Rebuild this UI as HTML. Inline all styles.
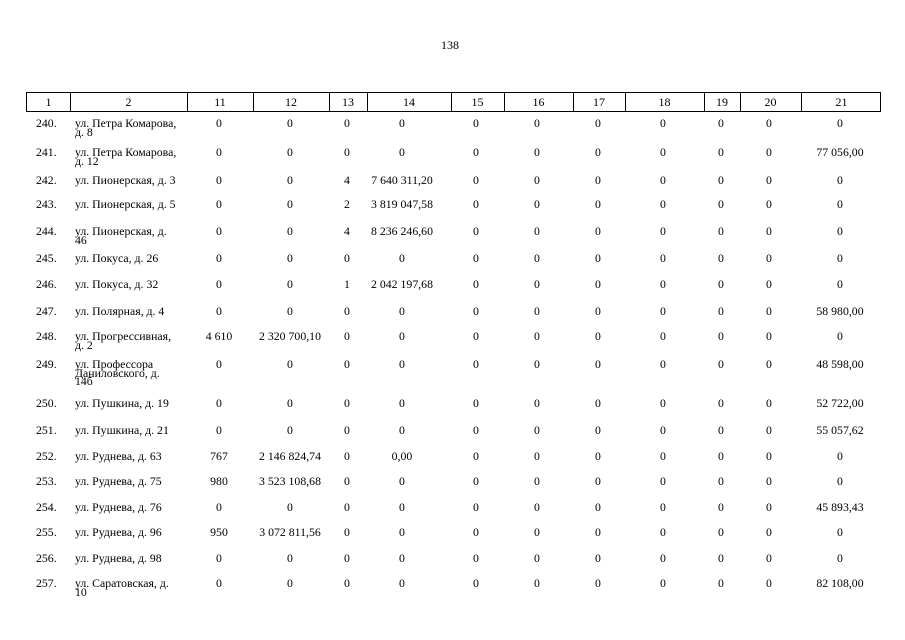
<!DOCTYPE html><html><head><meta charset="utf-8"><style>
body{margin:0;width:905px;height:640px;background:#fff;position:relative;font-family:"Liberation Serif",serif;font-size:11.8px;color:#000;overflow:hidden}
.t{position:absolute;left:441px;top:38px;font-size:12px}
.h{position:absolute;top:92px;left:26px;width:855px;height:20px;border:1px solid #000;box-sizing:border-box}
.v{position:absolute;top:0;height:18px;border-left:1px solid #000}
.hc{position:absolute;top:2px;text-align:center;font-size:12px}
.r{position:absolute;left:0;width:905px;height:30px}
.r span{position:absolute;top:0;width:80px;text-align:center;line-height:12px;white-space:nowrap}
.r .n{left:36px;width:30px;text-align:left}
.r .a{left:75px;width:115px;text-align:left;line-height:8.7px;padding-top:2px}
.c1{left:179px}.c2{left:250px}.c3{left:307px}.c4{left:362px}.c5{left:436px}.c6{left:497px}.c7{left:558px}.c8{left:623px}.c9{left:681px}.c10{left:729px}.c11{left:800px}
</style></head><body>
<div class="t">138</div>
<div class="h">
<div class="v" style="left:43px"></div><div class="v" style="left:160px"></div><div class="v" style="left:226px"></div><div class="v" style="left:302px"></div><div class="v" style="left:340px"></div><div class="v" style="left:424px"></div><div class="v" style="left:477px"></div><div class="v" style="left:546px"></div><div class="v" style="left:598px"></div><div class="v" style="left:677px"></div><div class="v" style="left:713px"></div><div class="v" style="left:774px"></div>
<div class="hc" style="left:0;width:43px">1</div><div class="hc" style="left:43px;width:117px">2</div><div class="hc" style="left:160px;width:66px">11</div><div class="hc" style="left:226px;width:76px">12</div><div class="hc" style="left:302px;width:38px">13</div><div class="hc" style="left:340px;width:84px">14</div><div class="hc" style="left:424px;width:53px">15</div><div class="hc" style="left:477px;width:69px">16</div><div class="hc" style="left:546px;width:52px">17</div><div class="hc" style="left:598px;width:79px">18</div><div class="hc" style="left:677px;width:36px">19</div><div class="hc" style="left:713px;width:61px">20</div><div class="hc" style="left:774px;width:81px">21</div>
</div>

<div class="r" style="top:117px"><span class="n">240.</span><span class="a">ул. Петра Комарова,<br>д. 8</span><span class="c1">0</span><span class="c2">0</span><span class="c3">0</span><span class="c4">0</span><span class="c5">0</span><span class="c6">0</span><span class="c7">0</span><span class="c8">0</span><span class="c9">0</span><span class="c10">0</span><span class="c11">0</span></div>
<div class="r" style="top:146px"><span class="n">241.</span><span class="a">ул. Петра Комарова,<br>д. 12</span><span class="c1">0</span><span class="c2">0</span><span class="c3">0</span><span class="c4">0</span><span class="c5">0</span><span class="c6">0</span><span class="c7">0</span><span class="c8">0</span><span class="c9">0</span><span class="c10">0</span><span class="c11">77 056,00</span></div>
<div class="r" style="top:174px"><span class="n">242.</span><span class="a">ул. Пионерская, д. 3</span><span class="c1">0</span><span class="c2">0</span><span class="c3">4</span><span class="c4">7 640 311,20</span><span class="c5">0</span><span class="c6">0</span><span class="c7">0</span><span class="c8">0</span><span class="c9">0</span><span class="c10">0</span><span class="c11">0</span></div>
<div class="r" style="top:198px"><span class="n">243.</span><span class="a">ул. Пионерская, д. 5</span><span class="c1">0</span><span class="c2">0</span><span class="c3">2</span><span class="c4">3 819 047,58</span><span class="c5">0</span><span class="c6">0</span><span class="c7">0</span><span class="c8">0</span><span class="c9">0</span><span class="c10">0</span><span class="c11">0</span></div>
<div class="r" style="top:225px"><span class="n">244.</span><span class="a">ул. Пионерская, д.<br>46</span><span class="c1">0</span><span class="c2">0</span><span class="c3">4</span><span class="c4">8 236 246,60</span><span class="c5">0</span><span class="c6">0</span><span class="c7">0</span><span class="c8">0</span><span class="c9">0</span><span class="c10">0</span><span class="c11">0</span></div>
<div class="r" style="top:252px"><span class="n">245.</span><span class="a">ул. Покуса, д. 26</span><span class="c1">0</span><span class="c2">0</span><span class="c3">0</span><span class="c4">0</span><span class="c5">0</span><span class="c6">0</span><span class="c7">0</span><span class="c8">0</span><span class="c9">0</span><span class="c10">0</span><span class="c11">0</span></div>
<div class="r" style="top:278px"><span class="n">246.</span><span class="a">ул. Покуса, д. 32</span><span class="c1">0</span><span class="c2">0</span><span class="c3">1</span><span class="c4">2 042 197,68</span><span class="c5">0</span><span class="c6">0</span><span class="c7">0</span><span class="c8">0</span><span class="c9">0</span><span class="c10">0</span><span class="c11">0</span></div>
<div class="r" style="top:305px"><span class="n">247.</span><span class="a">ул. Полярная, д. 4</span><span class="c1">0</span><span class="c2">0</span><span class="c3">0</span><span class="c4">0</span><span class="c5">0</span><span class="c6">0</span><span class="c7">0</span><span class="c8">0</span><span class="c9">0</span><span class="c10">0</span><span class="c11">58 980,00</span></div>
<div class="r" style="top:330px"><span class="n">248.</span><span class="a">ул. Прогрессивная,<br>д. 2</span><span class="c1">4 610</span><span class="c2">2 320 700,10</span><span class="c3">0</span><span class="c4">0</span><span class="c5">0</span><span class="c6">0</span><span class="c7">0</span><span class="c8">0</span><span class="c9">0</span><span class="c10">0</span><span class="c11">0</span></div>
<div class="r" style="top:358px"><span class="n">249.</span><span class="a">ул. Профессора<br>Даниловского, д.<br>14б</span><span class="c1">0</span><span class="c2">0</span><span class="c3">0</span><span class="c4">0</span><span class="c5">0</span><span class="c6">0</span><span class="c7">0</span><span class="c8">0</span><span class="c9">0</span><span class="c10">0</span><span class="c11">48 598,00</span></div>
<div class="r" style="top:397px"><span class="n">250.</span><span class="a">ул. Пушкина, д. 19</span><span class="c1">0</span><span class="c2">0</span><span class="c3">0</span><span class="c4">0</span><span class="c5">0</span><span class="c6">0</span><span class="c7">0</span><span class="c8">0</span><span class="c9">0</span><span class="c10">0</span><span class="c11">52 722,00</span></div>
<div class="r" style="top:424px"><span class="n">251.</span><span class="a">ул. Пушкина, д. 21</span><span class="c1">0</span><span class="c2">0</span><span class="c3">0</span><span class="c4">0</span><span class="c5">0</span><span class="c6">0</span><span class="c7">0</span><span class="c8">0</span><span class="c9">0</span><span class="c10">0</span><span class="c11">55 057,62</span></div>
<div class="r" style="top:450px"><span class="n">252.</span><span class="a">ул. Руднева, д. 63</span><span class="c1">767</span><span class="c2">2 146 824,74</span><span class="c3">0</span><span class="c4">0,00</span><span class="c5">0</span><span class="c6">0</span><span class="c7">0</span><span class="c8">0</span><span class="c9">0</span><span class="c10">0</span><span class="c11">0</span></div>
<div class="r" style="top:475px"><span class="n">253.</span><span class="a">ул. Руднева, д. 75</span><span class="c1">980</span><span class="c2">3 523 108,68</span><span class="c3">0</span><span class="c4">0</span><span class="c5">0</span><span class="c6">0</span><span class="c7">0</span><span class="c8">0</span><span class="c9">0</span><span class="c10">0</span><span class="c11">0</span></div>
<div class="r" style="top:501px"><span class="n">254.</span><span class="a">ул. Руднева, д. 76</span><span class="c1">0</span><span class="c2">0</span><span class="c3">0</span><span class="c4">0</span><span class="c5">0</span><span class="c6">0</span><span class="c7">0</span><span class="c8">0</span><span class="c9">0</span><span class="c10">0</span><span class="c11">45 893,43</span></div>
<div class="r" style="top:526px"><span class="n">255.</span><span class="a">ул. Руднева, д. 96</span><span class="c1">950</span><span class="c2">3 072 811,56</span><span class="c3">0</span><span class="c4">0</span><span class="c5">0</span><span class="c6">0</span><span class="c7">0</span><span class="c8">0</span><span class="c9">0</span><span class="c10">0</span><span class="c11">0</span></div>
<div class="r" style="top:552px"><span class="n">256.</span><span class="a">ул. Руднева, д. 98</span><span class="c1">0</span><span class="c2">0</span><span class="c3">0</span><span class="c4">0</span><span class="c5">0</span><span class="c6">0</span><span class="c7">0</span><span class="c8">0</span><span class="c9">0</span><span class="c10">0</span><span class="c11">0</span></div>
<div class="r" style="top:577px"><span class="n">257.</span><span class="a">ул. Саратовская, д.<br>10</span><span class="c1">0</span><span class="c2">0</span><span class="c3">0</span><span class="c4">0</span><span class="c5">0</span><span class="c6">0</span><span class="c7">0</span><span class="c8">0</span><span class="c9">0</span><span class="c10">0</span><span class="c11">82 108,00</span></div>
</body></html>
